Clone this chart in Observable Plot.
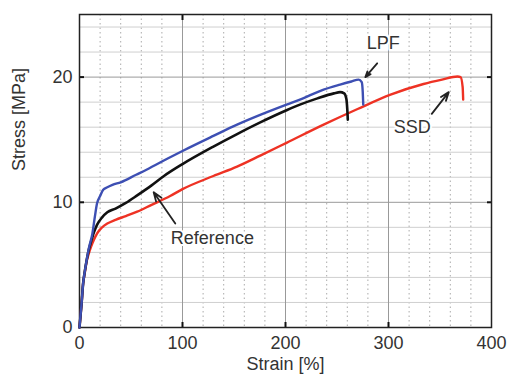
<!DOCTYPE html>
<html>
<head>
<meta charset="utf-8">
<script src="https://cdn.jsdelivr.net/npm/d3@7"></script>
<script src="https://cdn.jsdelivr.net/npm/@observablehq/plot@0.6"></script>
<style>
  html, body { margin: 0; padding: 0; background: #fff; }
</style>
</head>
<body>
<div id="chart"></div>
<script>
// LPF (blue)
const lpfStrain = [0, 2, 3.5, 5, 7, 9, 12.5, 15, 17, 20, 23, 27, 32, 40, 55, 65, 88, 100, 130, 153, 176, 201, 214, 237, 253, 264, 271, 274, 275, 275.5];
const lpfStress = [0, 1.9, 3.5, 4.4, 5.4, 6.3, 7.5, 8.9, 9.9, 10.5, 11.0, 11.2, 11.4, 11.6, 12.2, 12.6, 13.6, 14.1, 15.3, 16.2, 17.0, 17.8, 18.2, 19.0, 19.4, 19.65, 19.8, 19.6, 18.8, 17.8];
// Reference (black)
const refStrain = [0, 2, 3.5, 5, 7, 9, 11, 14, 17, 22, 27, 35, 45, 56, 70, 82, 100, 130, 153, 176, 201, 214, 231, 247, 253, 257, 259, 260, 260.5];
const refStress = [0, 1.9, 3.5, 4.4, 5.4, 6.2, 6.8, 7.6, 8.2, 8.8, 9.2, 9.5, 9.95, 10.55, 11.35, 12.1, 13.05, 14.45, 15.45, 16.4, 17.35, 17.8, 18.3, 18.7, 18.8, 18.7, 18.3, 17.4, 16.6];
// SSD (red)
const ssdStrain = [0, 2, 3.5, 5, 7, 9, 11, 14, 17, 22, 27, 35, 45, 56, 70, 88, 100, 130, 153, 176, 201, 237, 270, 302, 334, 352, 367, 370, 372, 372.5];
const ssdStress = [0, 1.9, 3.5, 4.3, 5.3, 5.9, 6.4, 7.0, 7.5, 8.0, 8.3, 8.6, 8.9, 9.25, 9.8, 10.5, 11.05, 12.1, 12.85, 13.75, 14.75, 16.2, 17.45, 18.6, 19.45, 19.8, 20.05, 20.0, 19.2, 18.2];

const seriesNames = ["LPF", "Reference", "SSD"];
const xTickLabels = [0, 100, 200, 300, 400];
const yTickLabels = [0, 10, 20];

// annotation labels and arrows (data coordinates)
const labelNames = ["LPF", "SSD", "Reference"];
const labelStrain = [295, 323, 129];
const labelStress = [22.7, 16.0, 7.1];
const arrowFromStrain = [289, 342, 93];
const arrowFromStress = [21.1, 17.06, 8.3];
const arrowToStrain = [277.5, 358.5, 72];
const arrowToStress = [20.0, 18.8, 10.8];

const toRows = (xs, ys, name) => xs.map((x, i) => ({strain: x, stress: ys[i], series: name}));
const lpf = toRows(lpfStrain, lpfStress, seriesNames[0]);
const ref = toRows(refStrain, refStress, seriesNames[1]);
const ssd = toRows(ssdStrain, ssdStress, seriesNames[2]);
const labels = labelNames.map((t, i) => ({text: t, x: labelStrain[i], y: labelStress[i]}));
const arrows = labelNames.map((t, i) => ({x1: arrowFromStrain[i], y1: arrowFromStress[i], x2: arrowToStrain[i], y2: arrowToStress[i]}));

const minorX = d3.range(20, 400, 20).filter(v => v % 100 !== 0);
const minorY = d3.range(2, 25, 2).filter(v => v % 10 !== 0);

const chart = Plot.plot({
  width: 507,
  height: 378,
  marginLeft: 79,
  marginRight: 16,
  marginTop: 14,
  marginBottom: 51,
  x: {domain: [0, 400]},
  y: {domain: [0, 25]},
  style: {fontFamily: "'Liberation Sans', Arial, sans-serif", fontSize: "18px", color: "#333", background: "#fff"},
  marks: [
    Plot.gridX({ticks: minorX, stroke: "#aaa", strokeOpacity: 1, strokeDasharray: "1.5,3"}),
    Plot.gridY({ticks: minorY, stroke: "#cfcfcf", strokeOpacity: 1}),
    Plot.gridX({ticks: [100, 200, 300], stroke: "#999", strokeOpacity: 1}),
    Plot.gridY({ticks: [10, 20], stroke: "#999", strokeOpacity: 1}),
    Plot.axisX({ticks: xTickLabels, tickSize: 0, tickPadding: 9, label: null, fill: "#333", fontSize: 18}),
    Plot.axisY({ticks: yTickLabels, tickSize: 0, tickPadding: 7, label: null, fill: "#333", fontSize: 18}),
    Plot.axisX({ticks: [100, 200, 300], anchor: "bottom", tickSize: -5, text: null, label: null, stroke: "#111", strokeWidth: 2}),
    Plot.axisX({ticks: [100, 200, 300], anchor: "top", tickSize: -5, text: null, label: null, stroke: "#111", strokeWidth: 2}),
    Plot.axisY({ticks: [10, 20], anchor: "left", tickSize: -5, text: null, label: null, stroke: "#111", strokeWidth: 2}),
    Plot.axisY({ticks: [10, 20], anchor: "right", tickSize: -5, text: null, label: null, stroke: "#111", strokeWidth: 2}),
    Plot.frame({stroke: "#222", strokeWidth: 1.5}),
    Plot.line(ssd, {x: "strain", y: "stress", stroke: "#ee3224", strokeWidth: 2.4, curve: "monotone-x"}),
    Plot.line(ref, {x: "strain", y: "stress", stroke: "#111", strokeWidth: 2.6, curve: "monotone-x"}),
    Plot.line(lpf, {x: "strain", y: "stress", stroke: "#3d4fb3", strokeWidth: 2.4, curve: "monotone-x"}),
    Plot.arrow(arrows, {x1: "x1", y1: "y1", x2: "x2", y2: "y2", stroke: "#222", strokeWidth: 1.8, headLength: 8, headAngle: 40, bend: false}),
    Plot.text(labels, {x: "x", y: "y", text: "text", fill: "#333", fontSize: 18, stroke: "#fff", strokeWidth: 4}),
    Plot.text(["Strain [%]"], {frameAnchor: "bottom", dy: 42, fill: "#333", fontSize: 18}),
    Plot.text(["Stress [MPa]"], {frameAnchor: "left", dx: -60, rotate: -90, fill: "#333", fontSize: 18})
  ]
});
document.getElementById("chart").appendChild(chart);
</script>
</body>
</html>
